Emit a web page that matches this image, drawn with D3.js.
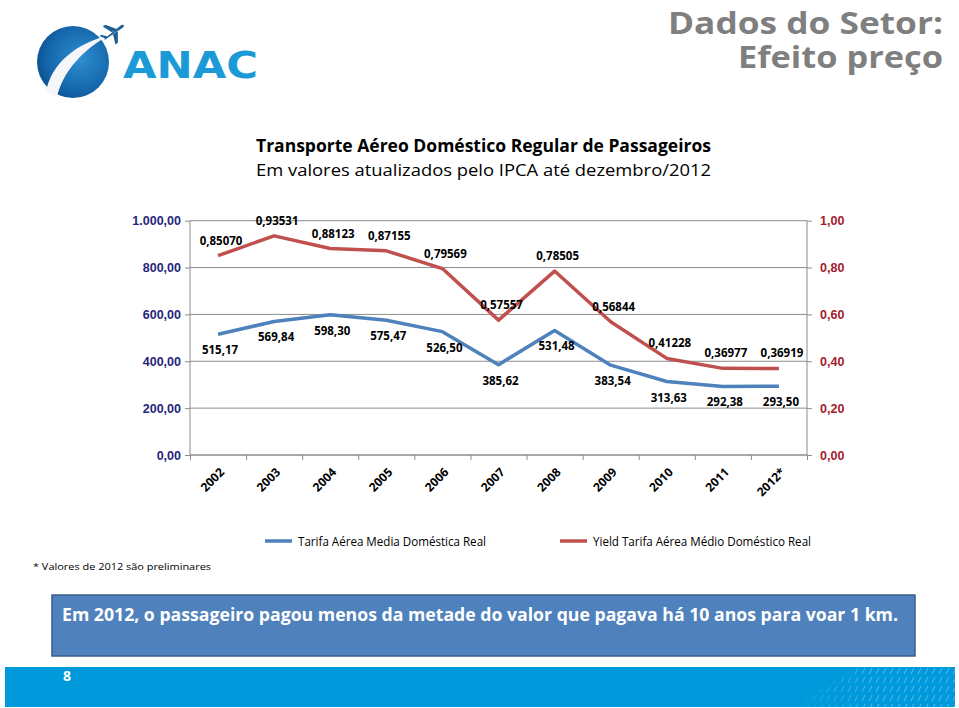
<!DOCTYPE html>
<html>
<head>
<meta charset="utf-8">
<script src="https://cdn.jsdelivr.net/npm/d3@7"></script>
<style>
	body { margin: 0; background: #fff; }
	svg { display: block; font-family: "Open Sans", "Noto Sans", sans-serif; }
</style>
</head>
<body>
<svg id="chart" width="959" height="708"></svg>
<script>
	// dados
	var years = ["2002","2003","2004","2005","2006","2007","2008","2009","2010","2011","2012*"];
	var tarifa = [515.17, 569.84, 598.30, 575.47, 526.50, 385.62, 531.48, 383.54, 313.63, 292.38, 293.50];
	var yieldKm = [0.85070, 0.93531, 0.88123, 0.87155, 0.79569, 0.57557, 0.78505, 0.56844, 0.41228, 0.36977, 0.36919];
	var leftTicks = [0, 200, 400, 600, 800, 1000];
	var rightTicks = [0, 0.2, 0.4, 0.6, 0.8, 1.0];
	var seriesNames = ["Tarifa Aérea Media Doméstica Real", "Yield Tarifa Aérea Médio Doméstico Real"];

	var br = d3.formatLocale({decimal: ",", thousands: ".", grouping: [3], currency: ["R$", ""]});
	var fmt2 = br.format(",.2f");
	var fmt5 = br.format(".5f");

	var blue = "#4f81bd", red = "#c0504d";
	var svg = d3.select("#chart");

	// ---- logo ANAC ----
	var defs = svg.append("defs");
	var rg = defs.append("radialGradient").attr("id", "globe").attr("cx", "0.6").attr("cy", "0.45").attr("r", "0.65");
	rg.append("stop").attr("offset", "0").attr("stop-color", "#2e8fd0");
	rg.append("stop").attr("offset", "0.7").attr("stop-color", "#1466ab");
	rg.append("stop").attr("offset", "1").attr("stop-color", "#0b4f8c");
	var logo = svg.append("g");
	logo.append("circle").attr("cx", 73).attr("cy", 62).attr("r", 36).attr("fill", "url(#globe)");
	logo.append("path")
		.attr("d", "M46,92 C51,64 75,44 109,35 C83,50 63,71 57,97 Z")
		.attr("fill", "#f4f6f8");
	logo.append("path")
		.attr("transform", "translate(114,32) rotate(-35)")
		.attr("d", "M-12,0 L10,-1.5 Q14,0 10,1.5 L-12,1.2 Z M-2,-1 L-6,-11 L-3,-11 L4,-1 Z M-2,1 L-6,11 L-3,11 L4,1 Z M-11,0 L-14,-5 L-12,-5 L-8,0 Z")
		.attr("fill", "#1c5d92");
	logo.append("text").attr("x", 123).attr("y", 78)
		.attr("font-family", "DejaVu Sans").attr("font-weight", "bold").attr("font-size", 38)
		.attr("textLength", 135).attr("lengthAdjust", "spacingAndGlyphs")
		.attr("fill", "#1b9ad7").text("ANAC");

	// ---- cabecalho ----
	svg.append("text").attr("x", 943).attr("y", 34).attr("text-anchor", "end")
		.attr("font-size", 31).attr("font-weight", "bold").attr("fill", "#7f7f7f")
		.attr("textLength", 275).attr("lengthAdjust", "spacingAndGlyphs").text("Dados do Setor:");
	svg.append("text").attr("x", 943).attr("y", 68).attr("text-anchor", "end")
		.attr("font-size", 31).attr("font-weight", "bold").attr("fill", "#7f7f7f")
		.attr("textLength", 205).attr("lengthAdjust", "spacingAndGlyphs").text("Efeito preço");

	svg.append("text").attr("x", 256).attr("y", 152)
		.attr("font-size", 17).attr("font-weight", "bold").attr("fill", "#000")
		.attr("textLength", 455).attr("lengthAdjust", "spacingAndGlyphs")
		.text("Transporte Aéreo Doméstico Regular de Passageiros");
	svg.append("text").attr("x", 256).attr("y", 176)
		.attr("font-size", 17).attr("fill", "#000")
		.attr("textLength", 455).attr("lengthAdjust", "spacingAndGlyphs")
		.text("Em valores atualizados pelo IPCA até dezembro/2012");

	// ---- grafico ----
	var x0 = 190, x1 = 807, yTop = 220.7, yBot = 455;
	var x = d3.scaleBand().domain(years).range([x0, x1]);
	var xEdge = d3.scaleLinear().domain([0, years.length]).range([x0, x1]);
	var yL = d3.scaleLinear().domain([0, 1000]).range([yBot, yTop]);
	var yR = d3.scaleLinear().domain([0, 1]).range([yBot, yTop]);
	var cx = function(d, i) { return x(years[i]) + x.bandwidth() / 2; };

	svg.append("g").selectAll("line").data(leftTicks).enter().append("line")
		.attr("x1", x0).attr("x2", x1)
		.attr("y1", function(d) { return yL(d); }).attr("y2", function(d) { return yL(d); })
		.attr("stroke", "#8c8c8c").attr("stroke-width", 1);

	var axL = svg.append("g").attr("transform", "translate(" + x0 + ",0)")
		.call(d3.axisLeft(yL).tickValues(leftTicks).tickSize(5).tickPadding(4).tickFormat(fmt2));
	axL.selectAll("text").attr("font-size", 12.5).attr("font-weight", "bold").attr("fill", "#26267a");

	var axR = svg.append("g").attr("transform", "translate(" + x1 + ",0)")
		.call(d3.axisRight(yR).tickValues(rightTicks).tickSize(5).tickPadding(8).tickFormat(fmt2));
	axR.selectAll("text").attr("font-size", 12.5).attr("font-weight", "bold").attr("fill", "#a3202b");

	var axB = svg.append("g").attr("transform", "translate(0," + yBot + ")")
		.call(d3.axisBottom(xEdge).ticks(years.length).tickSize(5).tickFormat(""));
	[axL, axR, axB].forEach(function(a) {
		a.selectAll("path, line").attr("stroke", "#8c8c8c");
		a.select(".domain").attr("d", a === axB ? "M" + x0 + ",0H" + x1 : "M0," + yTop + "V" + yBot);
	});

	svg.append("g").selectAll("text").data(years).enter().append("text")
		.attr("transform", function(d) { return "translate(" + (x(d) + x.bandwidth() / 2 + 7) + ",473) rotate(-45)"; })
		.attr("text-anchor", "end").attr("font-size", 12).attr("font-weight", "bold").attr("fill", "#000")
		.text(function(d) { return d; });

	var lineL = d3.line().x(cx).y(function(d) { return yL(d); });
	var lineR = d3.line().x(cx).y(function(d) { return yR(d); });
	svg.append("path").datum(tarifa).attr("d", lineL).attr("fill", "none")
		.attr("stroke", blue).attr("stroke-width", 3.5).attr("stroke-linejoin", "round");
	svg.append("path").datum(yieldKm).attr("d", lineR).attr("fill", "none")
		.attr("stroke", red).attr("stroke-width", 3.5).attr("stroke-linejoin", "round");

	svg.append("g").selectAll("text").data(tarifa).enter().append("text")
		.attr("x", function(d, i) { return cx(d, i) + 2; })
		.attr("y", function(d) { return yL(d) + 20; })
		.attr("text-anchor", "middle").attr("font-size", 11.5).attr("font-weight", "bold").attr("fill", "#000")
		.text(function(d) { return fmt2(d); });
	svg.append("g").selectAll("text").data(yieldKm).enter().append("text")
		.attr("x", function(d, i) { return cx(d, i) + 3; })
		.attr("y", function(d) { return yR(d) - 11; })
		.attr("text-anchor", "middle").attr("font-size", 11.5).attr("font-weight", "bold").attr("fill", "#000")
		.text(function(d) { return fmt5(d); });

	// legenda
	var leg = svg.append("g").selectAll("g").data(seriesNames).enter().append("g")
		.attr("transform", function(d, i) { return "translate(" + (i === 0 ? 265 : 560) + ",541)"; });
	leg.append("line").attr("x1", 0).attr("x2", 27).attr("y1", 0).attr("y2", 0)
		.attr("stroke", function(d, i) { return i === 0 ? blue : red; }).attr("stroke-width", 3.5);
	leg.append("text").attr("x", 33).attr("y", 4.5).attr("font-size", 12).attr("fill", "#000")
		.attr("textLength", function(d, i) { return i === 0 ? 188 : 218; }).attr("lengthAdjust", "spacingAndGlyphs")
		.text(function(d) { return d; });

	svg.append("text").attr("x", 33).attr("y", 570).attr("font-size", 9).attr("fill", "#000")
		.attr("textLength", 178).attr("lengthAdjust", "spacingAndGlyphs")
		.text("* Valores de 2012 são preliminares");

	// caixa de destaque
	svg.append("rect").attr("x", 52).attr("y", 595).attr("width", 863).attr("height", 61)
		.attr("fill", "#4f81bd").attr("stroke", "#385d8a").attr("stroke-width", 1.5);
	svg.append("text").attr("x", 62).attr("y", 621).attr("font-size", 17.5).attr("font-weight", "bold").attr("fill", "#fff")
		.attr("textLength", 836).attr("lengthAdjust", "spacingAndGlyphs")
		.text("Em 2012, o passageiro pagou menos da metade do valor que pagava há 10 anos para voar 1 km.");

	// barra inferior
	var pat = defs.append("pattern").attr("id", "hatch").attr("patternUnits", "userSpaceOnUse")
		.attr("width", 7).attr("height", 9);
	pat.append("line").attr("x1", 1).attr("y1", 8).attr("x2", 4).attr("y2", 2)
		.attr("stroke", "#ffffff").attr("stroke-opacity", 0.35).attr("stroke-width", 1);
	svg.append("rect").attr("x", 5).attr("y", 667).attr("width", 950).attr("height", 40).attr("fill", "#0099dc");
	var fade = defs.append("linearGradient").attr("id", "fade").attr("x1", "0").attr("x2", "1");
	fade.append("stop").attr("offset", "0").attr("stop-color", "#fff").attr("stop-opacity", 0);
	fade.append("stop").attr("offset", "0.5").attr("stop-color", "#fff").attr("stop-opacity", 1);
	var mask = defs.append("mask").attr("id", "hmask");
	mask.append("path").attr("d", "M790,707 L860,667 L955,667 L955,707 Z").attr("fill", "url(#fade)");
	svg.append("rect").attr("x", 760).attr("y", 667).attr("width", 195).attr("height", 40)
		.attr("fill", "url(#hatch)").attr("mask", "url(#hmask)");
	svg.append("text").attr("x", 63).attr("y", 681).attr("font-size", 14).attr("font-weight", "bold").attr("fill", "#fff").text("8");
</script>
</body>
</html>
